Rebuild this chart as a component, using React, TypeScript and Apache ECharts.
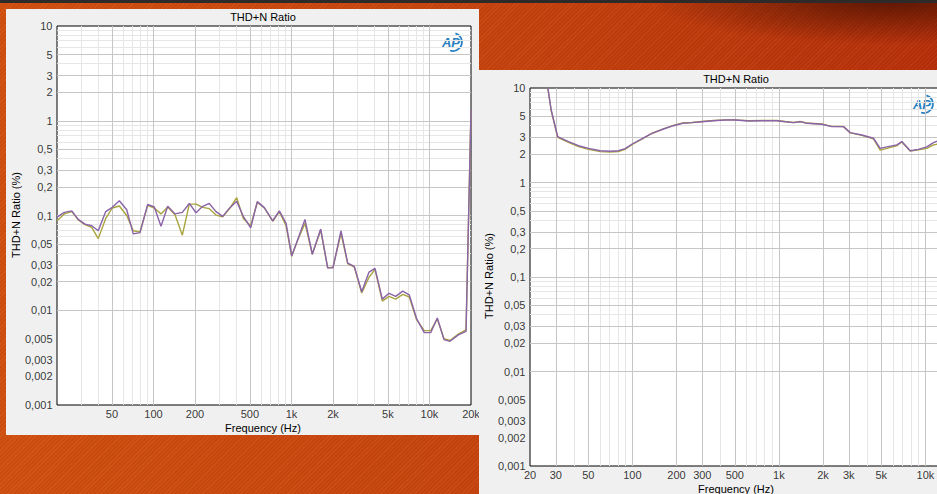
import React, { useEffect, useRef } from "react";
import * as echarts from "echarts";

const FONT = "'Liberation Sans', Arial, sans-serif";

// ---------- Left chart data ----------
const leftFreq = [20, 22.6, 25.6, 28.5, 31.9, 35.7, 39.8, 45.1, 50.3, 56.6, 64, 71.4, 79.9, 90.8, 101.4, 113.4, 126.9, 143.3, 161.9, 181.9, 203.4, 227.4, 253.9, 284, 317.5, 358.6, 401, 447.7, 506.4, 565.7, 636, 731.6, 816.9, 913.5, 1004, 1121, 1253, 1416, 1629, 1830, 2000, 2286, 2556, 2854, 3229, 3648, 4031, 4553, 5092, 5695, 6401, 7145, 8083, 9174, 10211, 11401, 12748, 14088, 16188, 18408, 20000];
const leftPurple = [0.096, 0.108, 0.112, 0.091, 0.081, 0.078, 0.069, 0.11, 0.122, 0.143, 0.115, 0.064, 0.066, 0.131, 0.123, 0.077, 0.125, 0.104, 0.108, 0.134, 0.107, 0.125, 0.134, 0.11, 0.098, 0.121, 0.141, 0.098, 0.074, 0.14, 0.121, 0.088, 0.112, 0.083, 0.0375, 0.058, 0.091, 0.039, 0.072, 0.028, 0.028, 0.069, 0.0315, 0.029, 0.0157, 0.0253, 0.0277, 0.0131, 0.0151, 0.014, 0.0159, 0.0145, 0.0081, 0.0058, 0.0058, 0.0083, 0.0049, 0.0047, 0.0055, 0.006, 1.3];
const leftOlive = [0.088, 0.104, 0.11, 0.09, 0.08, 0.075, 0.057, 0.093, 0.12, 0.126, 0.1, 0.069, 0.067, 0.128, 0.12, 0.104, 0.123, 0.102, 0.062, 0.132, 0.132, 0.122, 0.118, 0.101, 0.097, 0.12, 0.154, 0.093, 0.078, 0.138, 0.12, 0.087, 0.11, 0.078, 0.037, 0.057, 0.083, 0.039, 0.07, 0.028, 0.0285, 0.065, 0.031, 0.0285, 0.0152, 0.0223, 0.027, 0.0125, 0.014, 0.0131, 0.0147, 0.0138, 0.0079, 0.0061, 0.0061, 0.0081, 0.005, 0.0048, 0.0056, 0.0062, 1.3];

// ---------- Right chart data ----------
const rightFreq = [26, 27.9, 30.9, 36.6, 42.9, 50.2, 60.3, 70.5, 80.4, 89.3, 99.1, 115.9, 135.7, 163, 190.7, 219.8, 254.4, 297.6, 357.8, 430, 503.2, 620.1, 764.3, 967.8, 1104, 1258, 1398, 1551, 1962, 2296, 2760, 3067, 3681, 4423, 4914, 5453, 6380, 6903, 7876, 8975, 10217, 11358, 12100];
const rightPurple = [12, 5.85, 3.05, 2.71, 2.45, 2.3, 2.17, 2.14, 2.17, 2.28, 2.54, 2.89, 3.31, 3.68, 3.99, 4.23, 4.3, 4.4, 4.51, 4.58, 4.58, 4.47, 4.51, 4.51, 4.4, 4.3, 4.4, 4.23, 4.13, 3.9, 3.9, 3.37, 3.18, 2.94, 2.3, 2.38, 2.5, 2.71, 2.17, 2.24, 2.38, 2.64, 2.75];
const rightOlive = [12, 5.8, 3.0, 2.66, 2.4, 2.24, 2.12, 2.1, 2.13, 2.25, 2.52, 2.88, 3.3, 3.7, 4.02, 4.26, 4.32, 4.42, 4.53, 4.6, 4.6, 4.5, 4.53, 4.53, 4.42, 4.32, 4.42, 4.26, 4.16, 3.93, 3.92, 3.35, 3.15, 2.9, 2.2, 2.3, 2.45, 2.68, 2.15, 2.22, 2.3, 2.5, 2.55];

// ---------- Ticks ----------
const yTickValues = [10, 5, 3, 2, 1, 0.5, 0.3, 0.2, 0.1, 0.05, 0.03, 0.02, 0.01, 0.005, 0.003, 0.002, 0.001];
const yTickLabels = ["10", "5", "3", "2", "1", "0,5", "0,3", "0,2", "0,1", "0,05", "0,03", "0,02", "0,01", "0,005", "0,003", "0,002", "0,001"];
const leftXTickValues = [50, 100, 200, 500, 1000, 2000, 5000, 10000, 20000];
const leftXTickLabels = ["50", "100", "200", "500", "1k", "2k", "5k", "10k", "20k"];
const rightXTickValues = [20, 30, 50, 100, 200, 300, 500, 1000, 2000, 3000, 5000, 10000];
const rightXTickLabels = ["20", "30", "50", "100", "200", "300", "500", "1k", "2k", "3k", "5k", "10k"];

// ---------- Grid lines ----------
const yMajorGrid = [5, 3, 2, 1, 0.5, 0.3, 0.2, 0.1, 0.05, 0.03, 0.02, 0.01, 0.005, 0.003, 0.002];
const yMinorGrid = [9, 8, 7, 6, 4, 0.9, 0.8, 0.7, 0.6, 0.4, 0.09, 0.08, 0.07, 0.06, 0.04, 0.009, 0.008, 0.007, 0.006, 0.004];
const leftXMajorGrid = [50, 100, 200, 500, 1000, 2000, 5000, 10000];
const leftXMinorGrid = [30, 40, 60, 70, 80, 90, 300, 400, 600, 700, 800, 900, 3000, 4000, 6000, 7000, 8000, 9000];
const rightXMajorGrid = [30, 50, 100, 200, 300, 500, 1000, 2000, 3000, 5000, 10000];
const rightXMinorGrid = [40, 60, 70, 80, 90, 400, 600, 700, 800, 900, 4000, 6000, 7000, 8000, 9000];

const OLIVE = "#a9a43e";
const PURPLE = "#8a63a8";
const MAJOR = "#c6c6c6";
const MINOR = "#e6e6e6";
const LOGO = "#2a7fc0";

function buildOption(c: any) {
  const ls = (color: string) => ({ color, width: 1, type: "solid" });
  const gridLines = [
    ...c.xMinor.map((v: number) => ({ xAxis: v, lineStyle: ls(MINOR) })),
    ...yMinorGrid.map((v) => ({ yAxis: v, lineStyle: ls(MINOR) })),
    ...c.xMajor.map((v: number) => ({ xAxis: v, lineStyle: ls(MAJOR) })),
    ...yMajorGrid.map((v) => ({ yAxis: v, lineStyle: ls(MAJOR) })),
  ];
  const txt = (text: string, x: number, y: number, rot = 0) => ({
    type: "text",
    x,
    y,
    rotation: rot,
    silent: true,
    style: {
      text,
      fill: "#000",
      font: `11px ${FONT}`,
      align: "center",
      verticalAlign: "middle",
      textAlign: "center",
      textVerticalAlign: "middle",
    },
  });
  return {
    animation: false,
    backgroundColor: "#f0f0f0",
    textStyle: { fontFamily: FONT },
    grid: {
      left: c.gl,
      top: c.gt,
      width: c.gw,
      height: c.gh,
      show: true,
      backgroundColor: "#ffffff",
      borderColor: "#000",
      borderWidth: 1,
    },
    xAxis: {
      type: "log",
      logBase: 10,
      min: 20,
      max: 20000,
      axisLine: { show: false },
      axisTick: { show: false },
      axisLabel: { show: false },
      splitLine: { show: false },
    },
    yAxis: {
      type: "log",
      logBase: 10,
      min: 0.001,
      max: 10,
      axisLine: { show: false },
      axisTick: { show: false },
      axisLabel: { show: false },
      splitLine: { show: false },
    },
    series: [
      {
        type: "line",
        name: "gridlines",
        data: [],
        silent: true,
        markLine: {
          silent: true,
          symbol: ["none", "none"],
          label: { show: false },
          emphasis: { disabled: true },
          data: gridLines,
        },
      },
      {
        type: "line",
        name: "Ch1",
        data: c.freq.map((f: number, i: number) => [f, c.olive[i]]),
        showSymbol: false,
        symbol: "none",
        lineStyle: { color: OLIVE, width: 1.4 },
        z: 10,
        silent: true,
      },
      {
        type: "line",
        name: "Ch2",
        data: c.freq.map((f: number, i: number) => [f, c.purple[i]]),
        showSymbol: false,
        symbol: "none",
        lineStyle: { color: PURPLE, width: 1.4 },
        z: 11,
        silent: true,
      },
      {
        type: "scatter",
        name: "xlabels",
        data: c.xTicks.map((v: number) => [v, 0.001]),
        symbolSize: 1,
        itemStyle: { color: "rgba(0,0,0,0)" },
        silent: true,
        clip: false,
        z: 12,
        label: {
          show: true,
          position: "bottom",
          distance: 3,
          color: "#000",
          fontSize: 11,
          fontFamily: FONT,
          formatter: (p: any) => c.xLabels[p.dataIndex],
        },
      },
      {
        type: "scatter",
        name: "ylabels",
        data: yTickValues.map((v) => [20, v]),
        symbolSize: 1,
        itemStyle: { color: "rgba(0,0,0,0)" },
        silent: true,
        clip: false,
        z: 12,
        label: {
          show: true,
          position: "left",
          distance: 4,
          color: "#000",
          fontSize: 11,
          fontFamily: FONT,
          formatter: (p: any) => yTickLabels[p.dataIndex],
        },
      },
    ],
    graphic: [
      txt("THD+N Ratio", 257, c.titleY),
      txt("Frequency (Hz)", 257, 419),
      txt("THD+N Ratio (%)", 10, 206, Math.PI / 2),
      {
        type: "group",
        x: c.logoX,
        y: c.logoY,
        silent: true,
        children: [
          {
            type: "arc",
            shape: { cx: 1, cy: 0, r: 9, startAngle: -1.3, endAngle: 1.9, clockwise: true },
            style: { fill: "none", stroke: LOGO, lineWidth: 1.8 },
          },
          {
            type: "text",
            x: -1,
            y: 0,
            style: {
              text: "AP",
              fill: LOGO,
              font: `italic bold 13px ${FONT}`,
              align: "center",
              verticalAlign: "middle",
              textAlign: "center",
              textVerticalAlign: "middle",
            },
          },
        ],
      },
    ],
  };
}

const leftCfg = {
  freq: leftFreq,
  olive: leftOlive,
  purple: leftPurple,
  xTicks: leftXTickValues,
  xLabels: leftXTickLabels,
  xMajor: leftXMajorGrid,
  xMinor: leftXMinorGrid,
  gl: 51,
  gt: 17,
  gw: 414,
  gh: 379,
  titleY: 8,
  logoX: 446,
  logoY: 33,
};

const rightCfg = {
  freq: rightFreq,
  olive: rightOlive,
  purple: rightPurple,
  xTicks: rightXTickValues,
  xLabels: rightXTickLabels,
  xMajor: rightXMajorGrid,
  xMinor: rightXMinorGrid,
  gl: 51,
  gt: 18,
  gw: 439.5,
  gh: 378,
  titleY: 9,
  logoX: 444,
  logoY: 34,
};

export default function App() {
  const leftRef = useRef<HTMLDivElement>(null);
  const rightRef = useRef<HTMLDivElement>(null);

  useEffect(() => {
    const a = echarts.init(leftRef.current!, undefined, { renderer: "svg" });
    const b = echarts.init(rightRef.current!, undefined, { renderer: "svg" });
    a.setOption(buildOption(leftCfg) as any);
    b.setOption(buildOption(rightCfg) as any);
    return () => {
      a.dispose();
      b.dispose();
    };
  }, []);

  const bg = [
    "linear-gradient(#2d2a29 0px, #2d2a29 3px, rgba(0,0,0,0) 3px)",
    "radial-gradient(240px 45px at 890px 0px, rgba(70,15,0,0.8), rgba(70,15,0,0) 100%)",
    "repeating-linear-gradient(135deg, rgba(255,255,255,0.035) 0px, rgba(255,255,255,0.035) 1px, rgba(0,0,0,0.035) 1px, rgba(0,0,0,0.035) 3px)",
    "linear-gradient(90deg, #d2500f 0%, #c8440d 50%, #b8300a 100%)",
  ].join(", ");

  return (
    <div
      style={{
        position: "fixed",
        left: 0,
        top: 0,
        width: 937,
        height: 494,
        overflow: "hidden",
        background: bg,
      }}
    >
      <div
        ref={leftRef}
        style={{ position: "absolute", left: 6, top: 9, width: 473, height: 426 }}
      />
      <div
        ref={rightRef}
        style={{ position: "absolute", left: 479, top: 70, width: 500, height: 430 }}
      />
    </div>
  );
}
